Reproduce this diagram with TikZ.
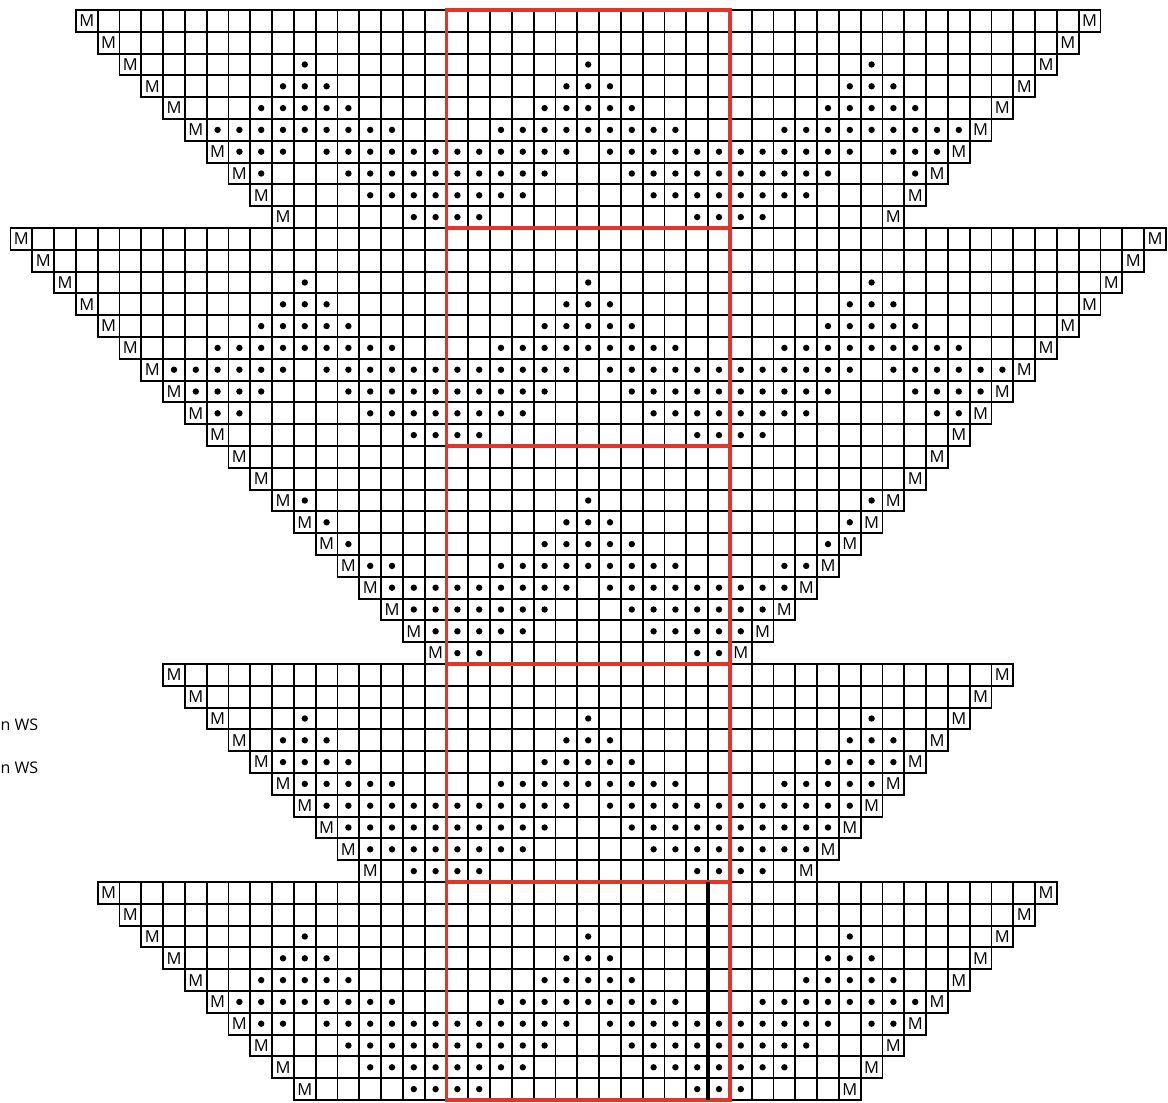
\documentclass[tikz,border=0pt]{standalone}
\usepackage{fontspec}
\setmainfont{Open Sans}
\definecolor{chartred}{RGB}{226,52,40}
\begin{document}
\begin{tikzpicture}[x=1pt,y=-1pt,
  cell/.style={draw=black,line width=1.9pt},
  redframe/.style={draw=chartred,line width=3.2pt},
  blackbar/.style={draw=black,line width=3.6pt},
  stitchdot/.style={fill=black,draw=none},
  mlabel/.style={font=\fontsize{16.5}{16.5}\selectfont,inner sep=0pt},
  legend/.style={font=\fontsize{16}{16}\selectfont,inner sep=0pt,anchor=base west}]
\useasboundingbox (0,0) rectangle (1168,1103);
\def\cw{21.8}
\def\xo{10.5}
\def\yo{10}
\foreach \bk/\bl/\br in {0/3/49,1/0/52,2/10/42,3/7/45,4/4/47}{
  \foreach \rw in {0,...,9}{
    \pgfmathtruncatemacro\lft{\bl+\rw}
    \pgfmathtruncatemacro\rgt{\br-\rw}
    \pgfmathsetmacro\yt{\yo+(10*\bk+\rw)*\cw}
    \pgfmathtruncatemacro\lo{{9,9,0,0,0,0,1,2,3,5}[\rw]}
    \pgfmathtruncatemacro\hi{{-1,-1,0,1,2,4,6,6,6,6}[\rw]}
    \foreach \col in {\lft,...,\rgt}{
      \pgfmathsetmacro\xl{\xo+\col*\cw}
      \draw[cell] (\xl,\yt) rectangle ++(\cw,\cw);
      \ifnum\col=\lft\relax
        \node[mlabel] (mL-\bk-\rw) at (\xl+\cw/2,\yt+\cw/2) {M};
      \else\ifnum\col=\rgt\relax
        \node[mlabel] (mR-\bk-\rw) at (\xl+\cw/2,\yt+\cw/2) {M};
      \else
        \pgfmathtruncatemacro\cc{(\bk==4 && \col>32) ? \col+1 : \col}
        \pgfmathtruncatemacro\mm{mod(\cc,13)}
        \pgfmathtruncatemacro\dd{min(\mm,13-\mm)}
        \ifnum\dd<\lo\relax\else\ifnum\dd>\hi\relax\else
          \fill[stitchdot] (\xl+\cw/2,\yt+\cw/2) circle (3.2);
        \fi\fi
      \fi\fi
    }
  }
}
\foreach \bk in {0,...,4}{
  \draw[redframe] (\xo+20*\cw,\yo+\bk*10*\cw) rectangle (\xo+33*\cw,\yo+\bk*10*\cw+10*\cw);
}
\coordinate (bartop) at (\xo+32*\cw,\yo+40*\cw);
\coordinate (barbot) at (\xo+32*\cw,\yo+50*\cw);
\draw[blackbar] (bartop) -- (barbot);
\node[legend] (ws1) at (0.5,730) {n WS};
\node[legend] (ws2) at (0.5,773) {n WS};
\end{tikzpicture}
\end{document}
